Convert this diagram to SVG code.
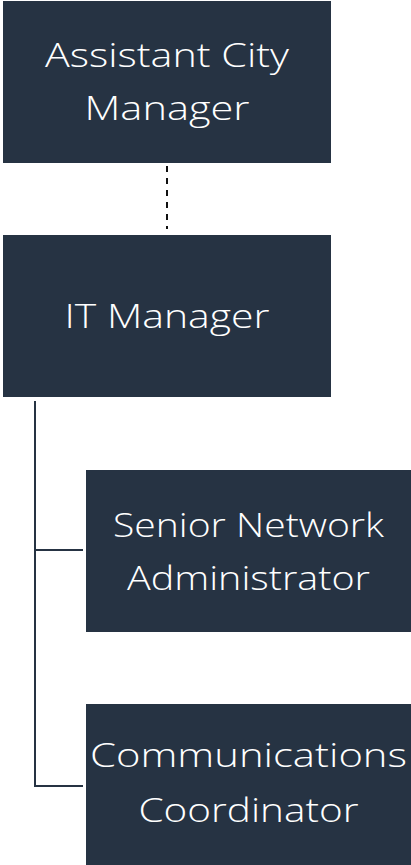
<svg xmlns="http://www.w3.org/2000/svg" width="411" height="865" viewBox="0 0 411 865">
<style>
.box{fill:#263343;}
.lbl{font-family:"Open Sans","Noto Sans",sans-serif;font-weight:300;font-size:33px;fill:#ffffff;text-anchor:middle;}
.ln{stroke:#263343;stroke-width:2;fill:none;}
.dash{stroke:#111111;stroke-width:2;fill:none;stroke-dasharray:6 6;}
</style>
<rect width="411" height="865" fill="#ffffff"/>
<g id="connectors">
<line class="dash" x1="167" y1="166" x2="167" y2="229"/>
<path class="ln" d="M35 401 V786 H83 M35 550 H83"/>
</g>
<g id="node-acm">
<rect class="box" x="3" y="1" width="328" height="162"/>
<text class="lbl" x="167" y="67" textLength="244" lengthAdjust="spacingAndGlyphs">Assistant City</text>
<text class="lbl" x="167" y="120" textLength="165" lengthAdjust="spacingAndGlyphs">Manager</text>
</g>
<g id="node-itm">
<rect class="box" x="3" y="235" width="328" height="162"/>
<text class="lbl" x="167" y="328" textLength="205" lengthAdjust="spacingAndGlyphs">IT Manager</text>
</g>
<g id="node-sna">
<rect class="box" x="86" y="470" width="325" height="162"/>
<text class="lbl" x="248.5" y="537" textLength="271" lengthAdjust="spacingAndGlyphs">Senior Network</text>
<text class="lbl" x="248.5" y="590" textLength="243" lengthAdjust="spacingAndGlyphs">Administrator</text>
</g>
<g id="node-cc">
<rect class="box" x="86" y="704" width="325" height="161"/>
<text class="lbl" x="248.5" y="767" textLength="317" lengthAdjust="spacingAndGlyphs">Communications</text>
<text class="lbl" x="248.5" y="822" textLength="220" lengthAdjust="spacingAndGlyphs">Coordinator</text>
</g>
</svg>
